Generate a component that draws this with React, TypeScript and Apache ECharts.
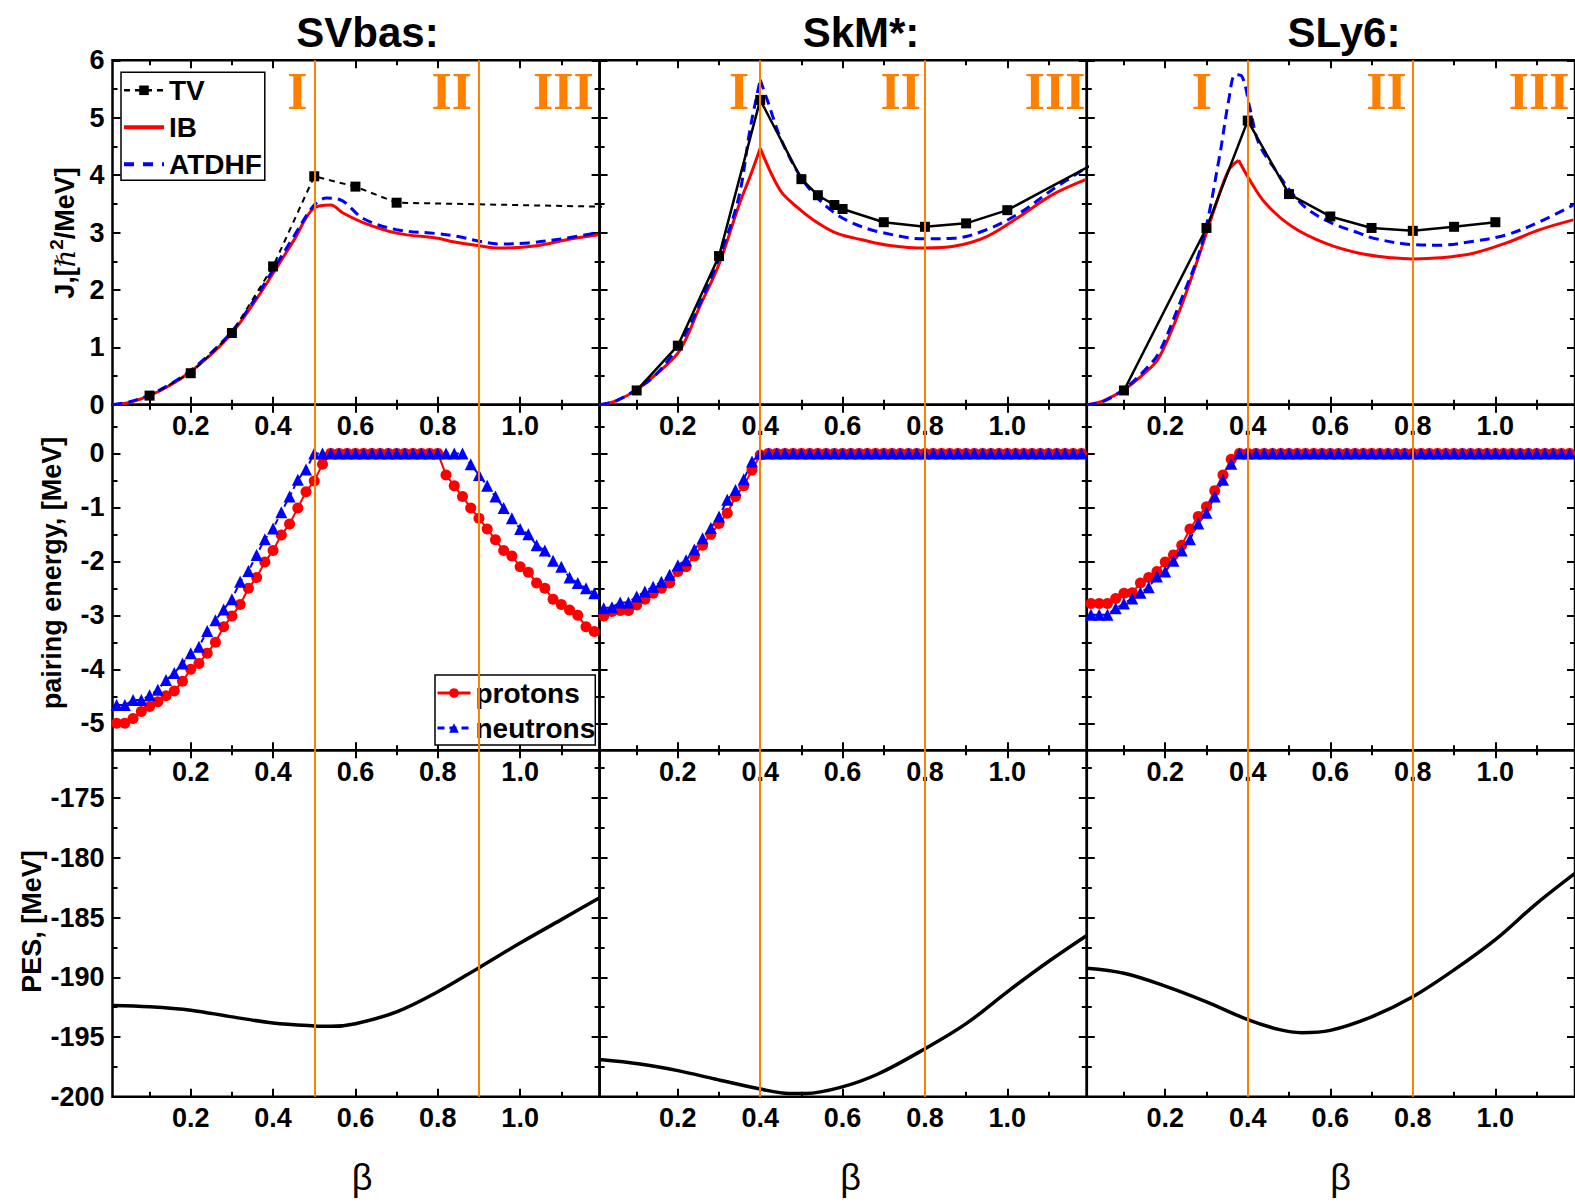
import React, { useEffect, useRef } from 'react';
import * as echarts from 'echarts';

const FONT = '"Liberation Sans", Arial, Helvetica, sans-serif';
const SERIF = '"Liberation Serif", "Times New Roman", serif';
const ORANGE = '#FF8000';
const RED = '#FF0000';
const BLUE = '#0000FF';
const BLACK = '#000000';

// Panel layout in pixels: three columns (forces) by three rows (quantities)
const COL_LEFT = [112.5, 599.6, 1086.8];
const COL_WIDTH = [487.1, 487.2, 489];
const ROW_TOP = [60.3, 404.8, 750.3];
const ROW_HEIGHT = [344.5, 345.5, 346.5];

const MODELS = ['SVbas:', 'SkM*:', 'SLy6:'];
const MODEL_TITLE_X = [367.5, 861, 1344];
const BETA_TITLE_X = [362, 850.7, 1340.5];

const BETA_MIN = 0.01;
const BETA_MAX = 1.193;
const BETA_MAJOR = [0.2, 0.4, 0.6, 0.8, 1.0];
const BETA_MINOR = [0.1, 0.3, 0.5, 0.7, 0.9, 1.1];

const J_RANGE = [0, 6];
const J_MAJOR = [0, 1, 2, 3, 4, 5, 6];
const J_MINOR = [0.5, 1.5, 2.5, 3.5, 4.5, 5.5];
const PAIR_RANGE = [-5.5, 0.9];
const PAIR_MAJOR = [0, -1, -2, -3, -4, -5];
const PAIR_MINOR = [0.5, -0.5, -1.5, -2.5, -3.5, -4.5];
const PES_RANGE = [-200, -171];
const PES_MAJOR = [-200, -195, -190, -185, -180, -175];
const PES_MINOR = [-197.5, -192.5, -187.5, -182.5, -177.5, -172.5];

const ROW_RANGE = [J_RANGE, PAIR_RANGE, PES_RANGE];
const ROW_MAJOR = [J_MAJOR, PAIR_MAJOR, PES_MAJOR];
const ROW_MINOR = [J_MINOR, PAIR_MINOR, PES_MINOR];

// Region boundaries (vertical lines) and the region numerals
const REGION_BOUNDS = [[0.5, 0.9], [0.4, 0.8], [0.4, 0.8]];
const REGION_NAMES = ['I', 'II', 'III'];
const REGION_NAME_BETA = [[0.459, 0.834, 1.105], [0.349, 0.741, 1.116], [0.289, 0.736, 1.106]];
const REGION_NAME_J = 5.45;

type Pt = [number, number];

// Moment of inertia J [hbar^2/MeV] vs beta
const TV_SVBAS: Pt[] = [[0.1, 0.16], [0.2, 0.55], [0.3, 1.25], [0.4, 2.41], [0.5, 3.98], [0.6, 3.8], [0.7, 3.52], [1.2, 3.45]];
const IB_SVBAS: Pt[] = [[0.01, 0], [0.05, 0.04], [0.1, 0.16], [0.15, 0.34], [0.2, 0.58], [0.25, 0.88], [0.3, 1.25], [0.35, 1.74], [0.4, 2.29], [0.45, 2.86], [0.5, 3.43], [0.54, 3.48], [0.57, 3.34], [0.62, 3.17], [0.7, 2.99], [0.8, 2.9], [0.83, 2.85], [0.9, 2.77], [0.95, 2.73], [1.04, 2.77], [1.11, 2.87], [1.19, 2.96]];
const ATDHF_SVBAS: Pt[] = [[0.01, 0], [0.05, 0.05], [0.1, 0.17], [0.15, 0.36], [0.2, 0.6], [0.25, 0.91], [0.3, 1.28], [0.35, 1.78], [0.4, 2.35], [0.45, 2.93], [0.5, 3.48], [0.53, 3.6], [0.56, 3.58], [0.62, 3.24], [0.7, 3.05], [0.8, 2.98], [0.85, 2.93], [0.9, 2.85], [0.95, 2.8], [1.02, 2.82], [1.11, 2.9], [1.19, 3.0]];

const TV_SKM: Pt[] = [[0.1, 0.25], [0.2, 1.03], [0.3, 2.59], [0.4, 5.31], [0.5, 3.93], [0.54, 3.65], [0.58, 3.48], [0.6, 3.41], [0.7, 3.18], [0.8, 3.1], [0.9, 3.16], [1.0, 3.39], [1.2, 4.16]];
const IB_SKM: Pt[] = [[0.01, 0], [0.05, 0.07], [0.1, 0.26], [0.15, 0.55], [0.205, 0.95], [0.253, 1.71], [0.3, 2.45], [0.35, 3.51], [0.375, 3.97], [0.4, 4.47], [0.448, 3.74], [0.488, 3.45], [0.529, 3.22], [0.585, 2.99], [0.65, 2.87], [0.71, 2.78], [0.8, 2.73], [0.87, 2.76], [0.95, 2.93], [1.03, 3.28], [1.11, 3.66], [1.19, 3.92]];
const ATDHF_SKM: Pt[] = [[0.01, 0], [0.05, 0.07], [0.1, 0.27], [0.15, 0.55], [0.205, 1.07], [0.25, 1.7], [0.31, 2.75], [0.35, 3.68], [0.375, 4.79], [0.4, 5.66], [0.42, 5.25], [0.448, 4.67], [0.488, 4.09], [0.529, 3.68], [0.577, 3.36], [0.626, 3.16], [0.69, 3.01], [0.8, 2.89], [0.87, 2.9], [0.95, 3.05], [1.03, 3.34], [1.11, 3.75], [1.19, 4.12]];

const TV_SLY6: Pt[] = [[0.1, 0.25], [0.3, 3.08], [0.4, 4.95], [0.5, 3.67], [0.6, 3.28], [0.7, 3.08], [0.8, 3.03], [0.9, 3.1], [1.0, 3.18]];
const IB_SLY6: Pt[] = [[0.01, 0], [0.05, 0.07], [0.1, 0.26], [0.15, 0.55], [0.184, 0.81], [0.232, 1.59], [0.281, 2.58], [0.321, 3.45], [0.354, 4.09], [0.378, 4.26], [0.402, 3.95], [0.443, 3.51], [0.508, 3.1], [0.589, 2.81], [0.67, 2.64], [0.75, 2.56], [0.8, 2.54], [0.866, 2.56], [0.947, 2.64], [1.027, 2.82], [1.108, 3.05], [1.189, 3.22]];
const ATDHF_SLY6: Pt[] = [[0.01, 0], [0.05, 0.06], [0.1, 0.27], [0.15, 0.6], [0.184, 0.9], [0.232, 1.71], [0.289, 2.81], [0.33, 4.26], [0.354, 5.31], [0.37, 5.75], [0.386, 5.72], [0.406, 5.14], [0.427, 4.55], [0.467, 4.09], [0.508, 3.68], [0.548, 3.39], [0.605, 3.16], [0.67, 2.99], [0.705, 2.9], [0.8, 2.79], [0.866, 2.78], [0.947, 2.85], [1.027, 2.96], [1.108, 3.19], [1.189, 3.48]];

const TV_DATA = [TV_SVBAS, TV_SKM, TV_SLY6];
const IB_DATA = [IB_SVBAS, IB_SKM, IB_SLY6];
const ATDHF_DATA = [ATDHF_SVBAS, ATDHF_SKM, ATDHF_SLY6];
// curves with a sharp kink at their maximum
const IB_CUSP = [false, true, true];
const ATDHF_CUSP = [false, true, false];

// Pairing energies [MeV] on the deformation mesh
const PAIR_BETA = [
  0.02, 0.04, 0.06, 0.08, 0.1, 0.12, 0.14, 0.16, 0.18, 0.2,
  0.22, 0.24, 0.26, 0.28, 0.3, 0.32, 0.34, 0.36, 0.38, 0.4,
  0.42, 0.44, 0.46, 0.48, 0.5, 0.52, 0.54, 0.56, 0.58, 0.6,
  0.62, 0.64, 0.66, 0.68, 0.7, 0.72, 0.74, 0.76, 0.78, 0.8,
  0.82, 0.84, 0.86, 0.88, 0.9, 0.92, 0.94, 0.96, 0.98, 1.0,
  1.02, 1.04, 1.06, 1.08, 1.1, 1.12, 1.14, 1.16, 1.18,
];
const PROTONS_SVBAS = [
  -5.0, -5.0, -4.91, -4.78, -4.69, -4.6, -4.49, -4.4, -4.22, -4.0,
  -3.89, -3.7, -3.5, -3.21, -3.01, -2.8, -2.5, -2.3, -2.01, -1.8,
  -1.51, -1.31, -1.01, -0.71, -0.51, -0.2, 0, 0, 0, 0,
  0, 0, 0, 0, 0, 0, 0, 0, 0, 0,
  -0.4, -0.6, -0.8, -1.01, -1.2, -1.4, -1.6, -1.8, -1.9, -2.1,
  -2.2, -2.4, -2.5, -2.7, -2.8, -2.9, -3.0, -3.21, -3.3,
];
const NEUTRONS_SVBAS = [
  -4.66, -4.66, -4.57, -4.57, -4.48, -4.38, -4.2, -4.07, -3.89, -3.7,
  -3.58, -3.29, -3.09, -2.89, -2.7, -2.38, -2.18, -1.88, -1.59, -1.39,
  -1.09, -0.8, -0.49, -0.3, 0, 0, 0, 0, 0, 0,
  0, 0, 0, 0, 0, 0, 0, 0, 0, 0,
  0, 0, 0, -0.2, -0.4, -0.6, -0.8, -1.01, -1.2, -1.4,
  -1.5, -1.7, -1.8, -1.99, -2.1, -2.3, -2.4, -2.5, -2.59,
];
const PROTONS_SKM = [
  -3.01, -2.93, -2.91, -2.91, -2.81, -2.7, -2.59, -2.5, -2.4, -2.19,
  -2.1, -1.9, -1.7, -1.5, -1.3, -1.11, -0.8, -0.6, -0.31, -0.03,
  0, 0, 0, 0, 0, 0, 0, 0, 0, 0,
  0, 0, 0, 0, 0, 0, 0, 0, 0, 0,
  0, 0, 0, 0, 0, 0, 0, 0, 0, 0,
  0, 0, 0, 0, 0, 0, 0, 0, 0,
];
const NEUTRONS_SKM = [
  -2.87, -2.85, -2.76, -2.76, -2.65, -2.56, -2.47, -2.38, -2.25, -2.07,
  -1.98, -1.78, -1.57, -1.38, -1.17, -0.86, -0.68, -0.48, -0.15, 0,
  0, 0, 0, 0, 0, 0, 0, 0, 0, 0,
  0, 0, 0, 0, 0, 0, 0, 0, 0, 0,
  0, 0, 0, 0, 0, 0, 0, 0, 0, 0,
  0, 0, 0, 0, 0, 0, 0, 0, 0,
];
const PROTONS_SLY6 = [
  -2.78, -2.78, -2.78, -2.69, -2.59, -2.58, -2.4, -2.3, -2.19, -2.01,
  -1.88, -1.7, -1.4, -1.17, -0.99, -0.69, -0.4, -0.11, 0, 0,
  0, 0, 0, 0, 0, 0, 0, 0, 0, 0,
  0, 0, 0, 0, 0, 0, 0, 0, 0, 0,
  0, 0, 0, 0, 0, 0, 0, 0, 0, 0,
  0, 0, 0, 0, 0, 0, 0, 0, 0,
];
const NEUTRONS_SLY6 = [
  -2.99, -2.99, -2.99, -2.87, -2.78, -2.69, -2.58, -2.48, -2.28, -2.19,
  -1.99, -1.8, -1.59, -1.3, -1.1, -0.8, -0.49, -0.19, 0, 0,
  0, 0, 0, 0, 0, 0, 0, 0, 0, 0,
  0, 0, 0, 0, 0, 0, 0, 0, 0, 0,
  0, 0, 0, 0, 0, 0, 0, 0, 0, 0,
  0, 0, 0, 0, 0, 0, 0, 0, 0,
];
const PROTONS = [PROTONS_SVBAS, PROTONS_SKM, PROTONS_SLY6];
const NEUTRONS = [NEUTRONS_SVBAS, NEUTRONS_SKM, NEUTRONS_SLY6];

// Potential energy surface [MeV] vs beta
const PES_SVBAS: Pt[] = [[0.01, -192.36], [0.1, -192.47], [0.2, -192.75], [0.3, -193.31], [0.4, -193.82], [0.5, -194.07], [0.54, -194.1], [0.6, -193.88], [0.7, -192.89], [0.8, -191.21], [0.9, -189.19], [1.0, -187.13], [1.1, -185.17], [1.193, -183.34]];
const PES_SKM: Pt[] = [[0.01, -196.88], [0.108, -197.25], [0.2, -197.81], [0.29, -198.51], [0.4, -199.35], [0.47, -199.72], [0.51, -199.72], [0.595, -199.21], [0.686, -198.09], [0.8, -195.98], [0.9, -193.88], [1.0, -191.21], [1.1, -188.68], [1.193, -186.5]];
const PES_SLY6: Pt[] = [[0.01, -189.24], [0.1, -189.66], [0.2, -190.73], [0.3, -192.05], [0.4, -193.54], [0.477, -194.38], [0.53, -194.63], [0.6, -194.44], [0.7, -193.31], [0.8, -191.63], [0.9, -189.38], [1.0, -186.85], [1.099, -183.85], [1.193, -181.3]];
const PES_DATA = [PES_SVBAS, PES_SKM, PES_SLY6];

const tickLine = { color: BLACK, width: 2 };
const labelFont = { color: BLACK, fontFamily: FONT, fontWeight: 'bold', fontSize: 27 };

function xAxesFor(g: number) {
  const base = {
    type: 'value', gridIndex: g, min: BETA_MIN, max: BETA_MAX,
    axisLine: { show: false, onZero: false }, splitLine: { show: false }, silent: true,
  };
  const major = { show: true, inside: true, length: 8, customValues: BETA_MAJOR, lineStyle: tickLine };
  const minor = { show: true, inside: true, length: 5, customValues: BETA_MINOR, lineStyle: tickLine };
  return [
    { ...base, position: 'bottom', axisTick: major, axisLabel: { show: true, customValues: BETA_MAJOR, formatter: (v: number) => v.toFixed(1), margin: 8, ...labelFont } },
    { ...base, position: 'bottom', axisTick: minor, axisLabel: { show: false } },
    { ...base, position: 'top', axisTick: major, axisLabel: { show: false } },
    { ...base, position: 'top', axisTick: minor, axisLabel: { show: false } },
  ];
}

function yAxesFor(g: number, row: number, withLabels: boolean) {
  const base = {
    type: 'value', gridIndex: g, min: ROW_RANGE[row][0], max: ROW_RANGE[row][1],
    axisLine: { show: false, onZero: false }, splitLine: { show: false }, silent: true,
  };
  const major = { show: true, inside: true, length: 8, customValues: ROW_MAJOR[row], lineStyle: tickLine };
  const minor = { show: true, inside: true, length: 5, customValues: ROW_MINOR[row], lineStyle: tickLine };
  return [
    { ...base, position: 'left', axisTick: major, axisLabel: withLabels ? { show: true, customValues: ROW_MAJOR[row], formatter: (v: number) => String(v), margin: 8, ...labelFont } : { show: false } },
    { ...base, position: 'left', axisTick: minor, axisLabel: { show: false } },
    { ...base, position: 'right', axisTick: major, axisLabel: { show: false } },
    { ...base, position: 'right', axisTick: minor, axisLabel: { show: false } },
  ];
}

function regionLines(col: number) {
  return {
    silent: true, symbol: ['none', 'none'], label: { show: false },
    lineStyle: { color: ORANGE, width: 2, type: 'solid' },
    emphasis: { disabled: true },
    data: REGION_BOUNDS[col].map((b) => ({ xAxis: b })),
  };
}

function regionNumerals(col: number) {
  return {
    silent: true, symbol: 'circle', symbolSize: 1,
    itemStyle: { color: 'rgba(0,0,0,0)' },
    label: { show: true, position: 'inside', formatter: '{b}', color: ORANGE, fontFamily: SERIF, fontWeight: 'bold', fontSize: 52 },
    emphasis: { disabled: true },
    data: REGION_NAME_BETA[col].map((b, i) => ({ name: REGION_NAMES[i], coord: [b, REGION_NAME_J] })),
  };
}

function splitAtPeak(d: Pt[]): Pt[][] {
  let k = 0;
  d.forEach((p, i) => { if (p[1] > d[k][1]) k = i; });
  return [d.slice(0, k + 1), d.slice(k)];
}

function line(name: string, g: number, data: any[], extra: any) {
  return {
    type: 'line', name, xAxisIndex: g * 4, yAxisIndex: g * 4, data,
    animation: false, silent: true, clip: true, emphasis: { disabled: true },
    ...extra,
  };
}

function buildOption() {
  const grid: any[] = [];
  const xAxis: any[] = [];
  const yAxis: any[] = [];
  const series: any[] = [];

  for (let row = 0; row < 3; row++) {
    for (let col = 0; col < 3; col++) {
      const g = row * 3 + col;
      grid.push({
        left: COL_LEFT[col], top: ROW_TOP[row], width: COL_WIDTH[col], height: ROW_HEIGHT[row],
        show: true, borderColor: BLACK, borderWidth: 2.5, backgroundColor: 'rgba(0,0,0,0)',
      });
      xAxis.push(...xAxesFor(g));
      yAxis.push(...yAxesFor(g, row, col === 0));
    }
  }

  // Row 1: moments of inertia
  for (let col = 0; col < 3; col++) {
    const g = col;
    const ibParts = IB_CUSP[col] ? splitAtPeak(IB_DATA[col]) : [IB_DATA[col]];
    ibParts.forEach((part, i) => {
      series.push(line('IB', g, part, {
        symbol: 'none', smooth: 0.35,
        lineStyle: { color: RED, width: 3 }, itemStyle: { color: RED },
        ...(i === 0 ? { markLine: regionLines(col), markPoint: regionNumerals(col) } : {}),
      }));
    });
    const atParts = ATDHF_CUSP[col] ? splitAtPeak(ATDHF_DATA[col]) : [ATDHF_DATA[col]];
    atParts.forEach((part) => {
      series.push(line('ATDHF', g, part, {
        symbol: 'none', smooth: 0.35,
        lineStyle: { color: BLUE, width: 3, type: [10, 6] }, itemStyle: { color: BLUE },
      }));
    });
    series.push(line('TV', g, TV_DATA[col], {
      symbol: 'rect', symbolSize: 10, showSymbol: true,
      itemStyle: { color: BLACK },
      lineStyle: { color: BLACK, width: col === 0 ? 2 : 2.5, type: col === 0 ? [6, 5] : 'solid' },
    }));
  }

  // Row 2: pairing energies
  for (let col = 0; col < 3; col++) {
    const g = 3 + col;
    series.push(line('protons', g, PAIR_BETA.map((b, i) => [b, PROTONS[col][i]]), {
      symbol: 'circle', symbolSize: 11, showSymbol: true,
      itemStyle: { color: RED }, lineStyle: { color: RED, width: 2 },
      markLine: regionLines(col),
    }));
    series.push(line('neutrons', g, PAIR_BETA.map((b, i) => [b, NEUTRONS[col][i]]), {
      symbol: 'triangle', symbolSize: 12, showSymbol: true,
      itemStyle: { color: BLUE }, lineStyle: { color: BLUE, width: 2, type: [6, 4] },
    }));
  }

  // Row 3: potential energy surfaces
  for (let col = 0; col < 3; col++) {
    const g = 6 + col;
    series.push(line('PES', g, PES_DATA[col], {
      symbol: 'none', smooth: 0.35,
      lineStyle: { color: BLACK, width: 3.5 },
      markLine: regionLines(col),
    }));
  }

  const legendText = { fontFamily: FONT, fontWeight: 'bold', fontSize: 28, color: BLACK };
  // line-only entries: hide the marker that the legend would otherwise draw
  const noMarker = { color: 'rgba(0,0,0,0)', borderWidth: 0 };
  const legend = [
    {
      data: [
        { name: 'TV', lineStyle: { width: 2.5, type: [6, 5] } },
        { name: 'IB', itemStyle: noMarker, lineStyle: { width: 4, type: 'solid' } },
        { name: 'ATDHF', itemStyle: noMarker, lineStyle: { width: 4, type: [10, 9] } },
      ],
      orient: 'vertical', left: 121, top: 72.3,
      itemWidth: 40, itemHeight: 12, itemGap: 9, padding: [4, 3, 2, 1],
      borderColor: BLACK, borderWidth: 1.5, backgroundColor: '#fff',
      selectedMode: false, textStyle: legendText,
    },
    {
      data: [
        { name: 'protons', lineStyle: { width: 3, type: 'solid' } },
        { name: 'neutrons', lineStyle: { width: 3, type: [7, 5] } },
      ],
      orient: 'vertical', left: 435, top: 675,
      itemWidth: 33, itemHeight: 12, itemGap: 7, padding: [4, 0, 3, 1],
      borderColor: BLACK, borderWidth: 1.5, backgroundColor: '#fff',
      selectedMode: false, textStyle: legendText,
    },
  ];

  const graphic: any[] = [];
  MODELS.forEach((t, i) => {
    graphic.push({
      type: 'text', x: MODEL_TITLE_X[i], y: 32, silent: true,
      style: { text: t, fill: BLACK, fontFamily: FONT, fontWeight: 'bold', fontSize: 42, align: 'center', verticalAlign: 'middle' },
    });
    graphic.push({
      type: 'text', x: BETA_TITLE_X[i], y: 1177, silent: true,
      style: { text: 'β', fill: BLACK, fontFamily: FONT, fontSize: 36, align: 'center', verticalAlign: 'middle' },
    });
  });
  graphic.push({
    type: 'text', x: 65, y: 233, rotation: Math.PI / 2, silent: true,
    style: {
      text: '{a|J,[}{h|ℏ}{s|2}{a|/MeV]}', fill: BLACK, align: 'center', verticalAlign: 'middle',
      rich: {
        a: { fontFamily: FONT, fontWeight: 'bold', fontSize: 27, lineHeight: 36 },
        h: { fontFamily: '"DejaVu Serif", serif', fontStyle: 'italic', fontSize: 27, lineHeight: 36 },
        s: { fontFamily: FONT, fontWeight: 'bold', fontSize: 19, lineHeight: 20, verticalAlign: 'top' },
      },
    },
  });
  graphic.push({
    type: 'text', x: 52, y: 573, rotation: Math.PI / 2, silent: true,
    style: { text: 'pairing energy, [MeV]', fill: BLACK, fontFamily: FONT, fontWeight: 'bold', fontSize: 27, align: 'center', verticalAlign: 'middle' },
  });
  graphic.push({
    type: 'text', x: 32, y: 921.5, rotation: Math.PI / 2, silent: true,
    style: { text: 'PES, [MeV]', fill: BLACK, fontFamily: FONT, fontWeight: 'bold', fontSize: 27, align: 'center', verticalAlign: 'middle' },
  });

  return {
    animation: false,
    backgroundColor: '#ffffff',
    textStyle: { fontFamily: FONT },
    grid, xAxis, yAxis, series, legend, graphic,
  };
}

export default function App() {
  const ref = useRef<HTMLDivElement>(null);
  useEffect(() => {
    if (!ref.current) return;
    const chart = echarts.init(ref.current, null, { renderer: 'svg' });
    chart.setOption(buildOption() as any);
    return () => chart.dispose();
  }, []);
  return (
    <div
      ref={ref}
      style={{ position: 'fixed', left: 0, top: 0, width: 1575, height: 1204, background: '#fff' }}
    />
  );
}
